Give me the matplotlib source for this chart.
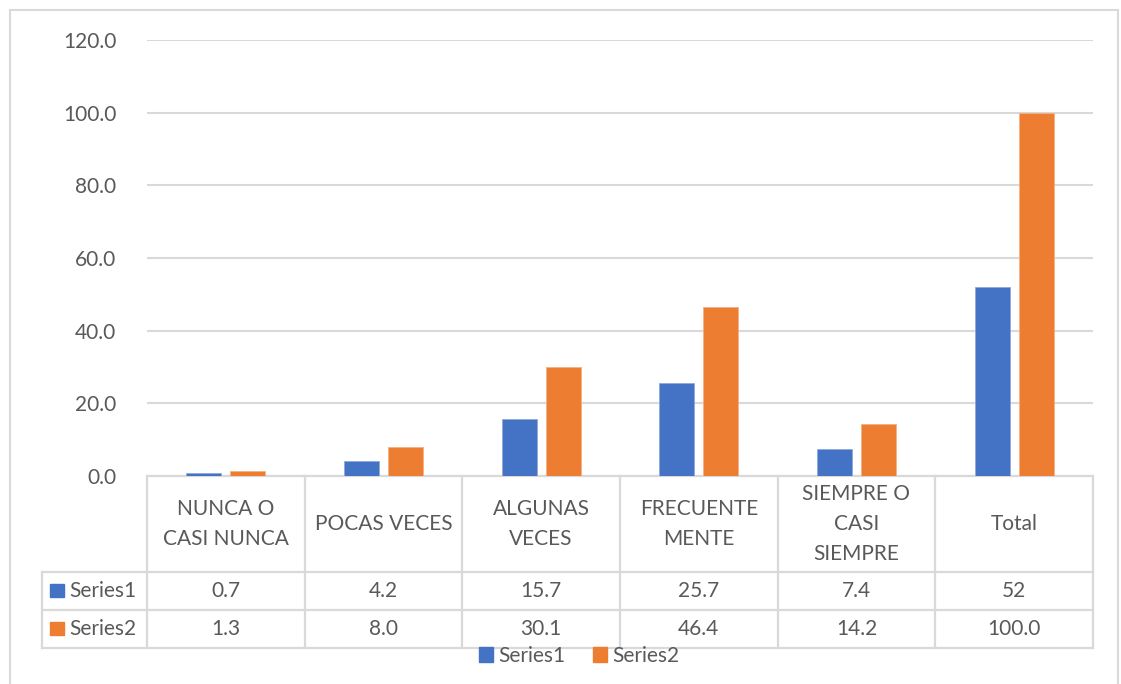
import matplotlib.pyplot as plt
import matplotlib.transforms as mtransforms
from matplotlib.patches import Rectangle
import numpy as np

# chart data
categories = ["NUNCA O\nCASI NUNCA", "POCAS VECES", "ALGUNAS\nVECES",
              "FRECUENTE\nMENTE", "SIEMPRE O\nCASI\nSIEMPRE", "Total"]
series1 = [0.7, 4.2, 15.7, 25.7, 7.4, 52]
series2 = [1.3, 8.0, 30.1, 46.4, 14.2, 100.0]
series1_text = ["0.7", "4.2", "15.7", "25.7", "7.4", "52"]
series2_text = ["1.3", "8.0", "30.1", "46.4", "14.2", "100.0"]
series_names = ["Series1", "Series2"]
yticks = [0, 20, 40, 60, 80, 100, 120]

BLUE = "#4472C4"
ORANGE = "#ED7D31"
GRID = "#d9d9d9"
TXT = "#595959"
FS = 15

plt.rcParams['font.family'] = ['Lato', 'DejaVu Sans']

W, H = 1121, 684
fig = plt.figure(figsize=(W / 100, H / 100), dpi=100)
# plot area in pixels: x 147..1093, y 40..476
ax = fig.add_axes([147 / W, 1 - 476 / H, (1093 - 147) / W, (476 - 40) / H])

x = np.arange(len(categories))
bw = 0.222
off = 0.14
ax.bar(x - off, series1, bw, color=BLUE, edgecolor="#8faadc", linewidth=0.6, zorder=3)
ax.bar(x + off, series2, bw, color=ORANGE, edgecolor="#f4b183", linewidth=0.6, zorder=3)

ax.set_xlim(-0.5, len(categories) - 0.5)
ax.set_ylim(0, 120)
ax.set_yticks(yticks)
ax.set_yticklabels([f"{v:.1f}" for v in yticks], fontsize=FS, color=TXT)
ax.tick_params(axis='y', length=0, pad=22)
ax.set_xticks([])
ax.grid(axis='y', color=GRID, linewidth=1.5, zorder=0)
for s in ax.spines.values():
    s.set_visible(False)

# data table under the axis (x in data units, y in axes fraction)
tr = mtransforms.blended_transform_factory(ax.transData, ax.transAxes)
px = 1 / (476 - 40)
y_head = -(572 - 476) * px
y_r1 = -(610 - 476) * px
y_r2 = -(648 - 476) * px
x_lab = -0.5 - 105 / 157.67

lk = dict(color=GRID, linewidth=1.6, transform=tr, clip_on=False, zorder=1)
ax.plot([-0.5, 5.5], [0, 0], **lk)
for yy in [y_head, y_r1, y_r2]:
    ax.plot([x_lab, 5.5], [yy, yy], **lk)
for i in range(len(categories) + 1):
    ax.plot([i - 0.5, i - 0.5], [0, y_r2], **lk)
ax.plot([x_lab, x_lab], [y_head, y_r2], **lk)

for i, cat in enumerate(categories):
    ax.text(i, y_head / 2, cat, ha='center', va='center', fontsize=FS, color=TXT,
            transform=tr, linespacing=1.6, clip_on=False)
    ax.text(i, (y_head + y_r1) / 2, series1_text[i], ha='center', va='center',
            fontsize=FS, color=TXT, transform=tr, clip_on=False)
    ax.text(i, (y_r1 + y_r2) / 2, series2_text[i], ha='center', va='center',
            fontsize=FS, color=TXT, transform=tr, clip_on=False)

# row labels with colour keys
for (y0, y1), key_top, name, col in [((y_head, y_r1), 584, series_names[0], BLUE),
                                     ((y_r1, y_r2), 622, series_names[1], ORANGE)]:
    fig.patches.append(Rectangle((50 / W, 1 - (key_top + 13) / H), 14 / W, 13 / H,
                                 color=col, transform=fig.transFigure))
    ax.text(x_lab + 27 / 157.67, (y0 + y1) / 2, name, ha='left', va='center',
            fontsize=FS, color=TXT, transform=tr, clip_on=False)

# bottom legend
handles = [Rectangle((0, 0), 1, 1, color=BLUE), Rectangle((0, 0), 1, 1, color=ORANGE)]
fig.legend(handles, series_names, loc='center', bbox_to_anchor=(579 / W, 1 - 656 / H),
           ncol=2, frameon=False, fontsize=FS, handlelength=0.7, handleheight=0.7,
           handletextpad=0.25, columnspacing=1.3, labelcolor=TXT)

# outer chart border
fig.patches.append(Rectangle((10 / W, -0.05), (1118 - 10) / W, 1.05 - 10 / H,
                             fill=False, edgecolor=GRID, linewidth=1.5,
                             transform=fig.transFigure))

fig.savefig("out.png", dpi=100)
